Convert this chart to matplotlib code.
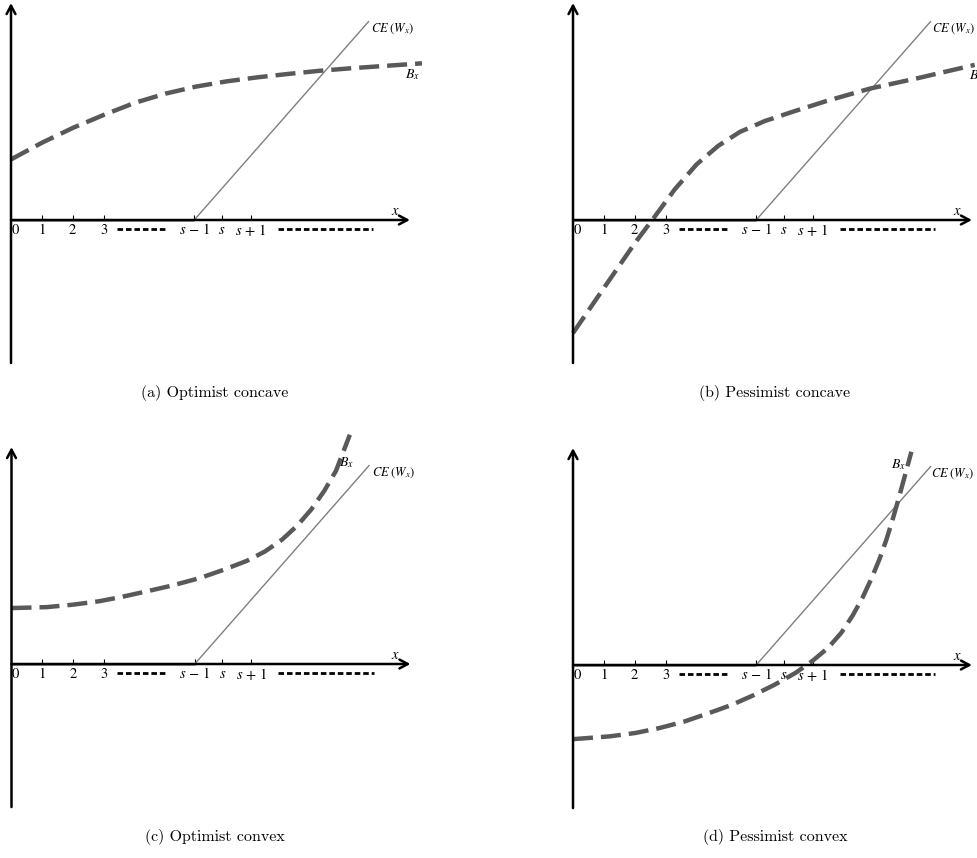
import matplotlib
matplotlib.use('Agg')
import matplotlib.pyplot as plt

plt.rcParams['mathtext.fontset'] = 'stix'

# ---------------- data (diagram units: one unit = spacing of the integer ticks) ----------
tick_pos = [1, 2, 3, 5.93, 6.82, 7.76]
tick_label_pos = [0.14, 1, 2, 3, 5.93, 6.82, 7.76]
tick_labels = [r'$0$', r'$1$', r'$2$', r'$3$', r'$s\,-\,1$', r'$s$', r'$s\,+\,1$']

# CE(W_x): zero up to s-1, then linear
ce_x = [0, 5.93, 11.57]
ce_y = [0, 0, 6.42]

# B_x curves
a_bx = [0.0, 1.0, 2.0, 3.0, 4.0, 5.0, 6.0, 7.0, 8.0, 9.0, 10.0, 11.0, 12.0, 13.3]
a_by = [1.96, 2.50, 2.98, 3.40, 3.79, 4.09, 4.32, 4.49, 4.62, 4.73, 4.83, 4.91, 4.98, 5.07]

b_bx = [0.0, 1.0, 2.0, 2.6, 3.3, 4.0, 4.7, 5.4, 6.2, 7.1, 8.2, 9.6, 11.2, 13.0]
b_by = [-3.66, -2.20, -0.75, 0.05, 1.00, 1.80, 2.40, 2.85, 3.20, 3.50, 3.85, 4.25, 4.60, 5.02]

c_bx = [0.0, 1.13, 1.99, 2.83, 3.56, 4.37, 5.20, 6.09, 6.87, 7.62, 8.20, 8.75, 9.25,
        9.70, 10.12, 10.50, 10.95]
c_by = [1.81, 1.84, 1.92, 2.03, 2.17, 2.35, 2.54, 2.78, 3.05, 3.34, 3.64, 4.02, 4.48,
        5.00, 5.60, 6.25, 7.42]

d_bx = [0.0, 1.18, 2.02, 2.80, 3.60, 4.39, 5.14, 5.86, 6.54, 7.21, 7.76, 8.26, 8.68,
        9.05, 9.37, 9.66, 9.92, 10.14, 10.33, 10.50, 10.66, 10.81, 10.95]
d_by = [-2.40, -2.31, -2.20, -2.04, -1.83, -1.56, -1.29, -0.97, -0.63, -0.25, 0.14, 0.56,
        1.04, 1.60, 2.18, 2.80, 3.43, 4.05, 4.66, 5.25, 5.83, 6.38, 6.90]

captions = ['(a) Optimist concave', '(b) Pessimist concave',
            '(c) Optimist convex', '(d) Pessimist convex']

# label positions for B_x / CE labels per panel
bx_label_pos = [(12.75, 4.70), (12.80, 4.68), (10.60, 6.51), (10.28, 6.50)]
ce_label_pos = [(11.66, 6.18), (11.63, 6.18), (11.66, 6.18), (11.60, 6.18)]

# ---------------- layout ---------------------------------------------------------------
W, H = 977, 858
U = 30.9
origins = [(11, 220), (573, 220), (11.5, 664), (573, 665)]
caption_pos = [(215, 393), (775, 393), (215, 837), (775, 837)]
XL = (-0.6, 14.2)
YL = (-4.9, 7.8)

fig = plt.figure(figsize=(W / 100, H / 100), dpi=100)

curves = [(a_bx, a_by), (b_bx, b_by), (c_bx, c_by), (d_bx, d_by)]

for i in range(4):
    ox, oy = origins[i]
    left = ox + XL[0] * U
    width = (XL[1] - XL[0]) * U
    top = oy - YL[1] * U
    height = (YL[1] - YL[0]) * U
    ax = fig.add_axes([left / W, 1 - (top + height) / H, width / W, height / H])
    ax.set_xlim(*XL)
    ax.set_ylim(*YL)
    ax.axis('off')

    # axes with arrows
    ax.annotate('', xy=(0, 7.02), xytext=(0, -4.63),
                arrowprops=dict(arrowstyle='->,head_length=0.6,head_width=0.32',
                                lw=1.8, color='black', shrinkA=0, shrinkB=0))
    ax.annotate('', xy=(12.91, 0), xytext=(0, 0),
                arrowprops=dict(arrowstyle='->,head_length=0.6,head_width=0.32',
                                lw=1.8, color='black', shrinkA=0, shrinkB=0))

    # ticks
    for p in tick_pos:
        ax.plot([p, p], [0, 0.17], color='black', lw=0.8, solid_capstyle='butt')
    for p, lab in zip(tick_label_pos, tick_labels):
        ax.text(p, -0.06, lab, ha='center', va='top', fontsize=10.5)
    # dash groups in the tick row
    ax.plot([3.43, 5.02], [-0.28, -0.28], color='black', lw=2.0,
            ls=(0, (2.0, 1.05)), dash_capstyle='butt')
    ax.plot([8.64, 11.72], [-0.28, -0.28], color='black', lw=2.0,
            ls=(0, (2.0, 1.05)), dash_capstyle='butt')
    ax.text(12.43, 0.06, r'$x$', ha='center', va='bottom', fontsize=10.5)

    # CE(W_x)
    ax.plot(ce_x[:2], ce_y[:2], color='#7f7f7f', lw=1.8, solid_capstyle='butt')
    ax.plot(ce_x[1:], ce_y[1:], color='#7f7f7f', lw=1.0)
    ax.text(*ce_label_pos[i], r'$CE\;(W_x)$', ha='left', va='center', fontsize=9)

    # B_x
    bx, by = curves[i]
    ax.plot(bx, by, color='#595959', lw=3.2, ls=(0, (4.5, 1.8)),
            dash_capstyle='butt', solid_joinstyle='round', clip_on=False)
    ax.text(*bx_label_pos[i], r'$B_x$', ha='left', va='center', fontsize=10)

    cx, cy = caption_pos[i]
    fig.text(cx / W, 1 - cy / H, captions[i], family='cmr10', fontsize=11.5,
             ha='center', va='center')

fig.savefig('out.png', dpi=100)
